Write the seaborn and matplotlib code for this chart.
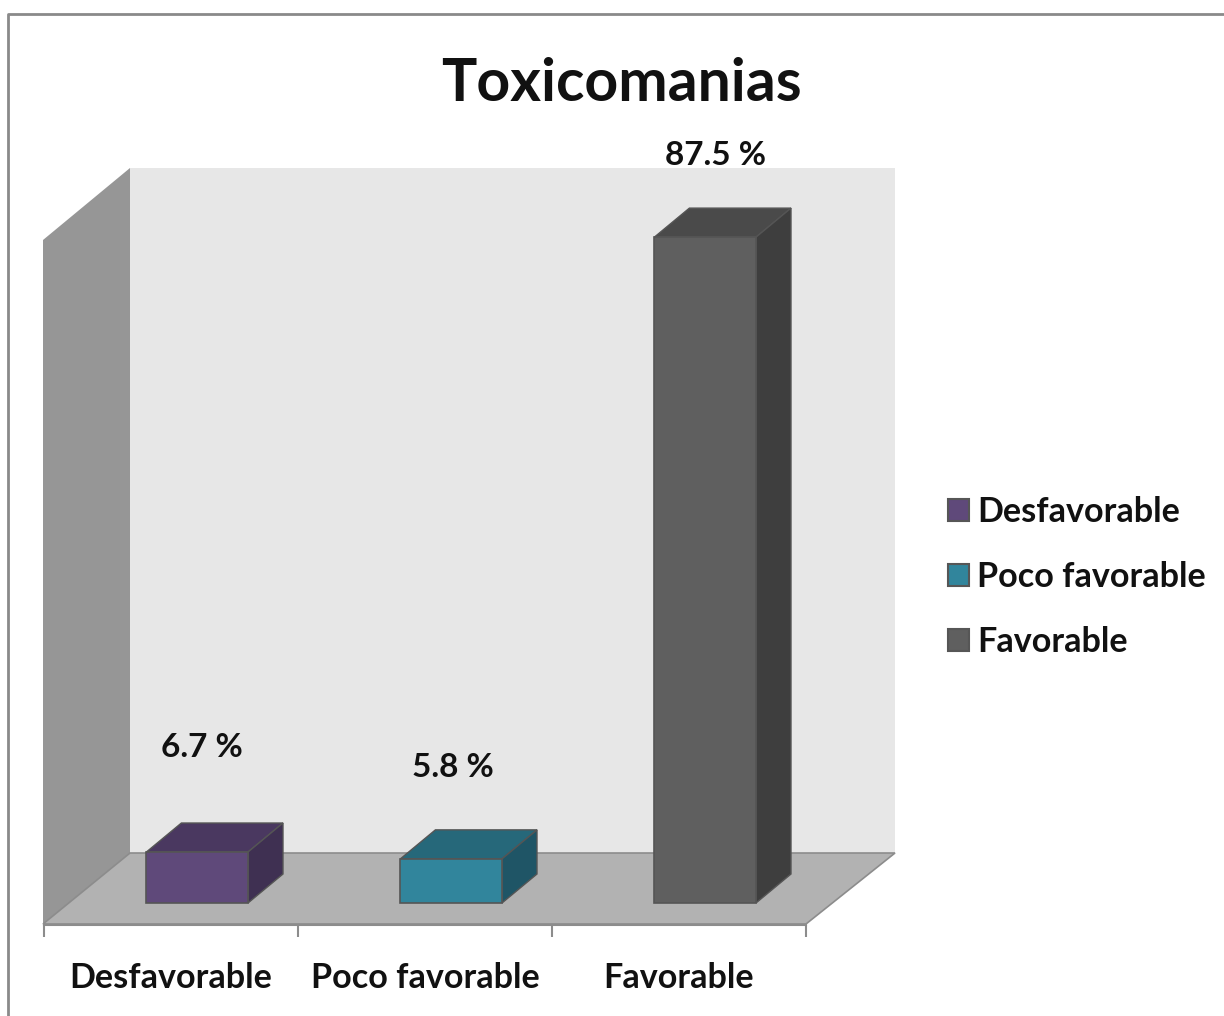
import matplotlib
matplotlib.use('Agg')
import matplotlib.pyplot as plt
from matplotlib.lines import Line2D
from matplotlib.patches import Patch, Polygon
from matplotlib.transforms import Affine2D, IdentityTransform
import pandas as pd
import seaborn as sns

categories = ['Desfavorable', 'Poco favorable', 'Favorable']
values = [6.7, 5.8, 87.5]
value_labels = ['6.7 %', '5.8 %', '87.5 %']
front_colors = ['#5F497A', '#31859C', '#5F5F5F']
top_colors = ['#4A3860', '#26687A', '#4A4A4A']
side_colors = ['#3F3052', '#1F5566', '#3E3E3E']

W, H = 1224, 1016
sns.set_theme(style='white')
plt.rcParams['font.family'] = ['Lato', 'DejaVu Sans']

df = pd.DataFrame({'cat': categories, 'val': values})

fig = plt.figure(figsize=(W / 100, H / 100), dpi=100, facecolor='white')
ax = fig.add_axes([44 / W, 1 - 925 / H, 762 / W, 825 / H])
ax.patch.set_alpha(0)

# image pixels, y pointing down
px = Affine2D().scale(1, -1).translate(0, H)

sns.barplot(data=df, x='cat', y='val', hue='cat', hue_order=categories, order=categories,
            palette=front_colors, saturation=1, dodge=False, width=0.4, legend=False,
            edgecolor='#555555', linewidth=1.2, ax=ax)

unit = 7.61
ax.set_xlim(-0.5, 2.5)
ax.set_ylim(-22 / unit, 803 / unit)

bars = [b for b in ax.patches if b.get_height() > 0]
bars = sorted(bars, key=lambda b: b.get_x())

# back walls and floor
ax.add_patch(Polygon([(43, 240), (130, 168), (130, 853), (43, 924)], closed=True, transform=px,
                     facecolor='#969696', edgecolor='none', clip_on=False, zorder=0.5))
ax.add_patch(Polygon([(130, 168), (895, 168), (895, 853), (130, 853)], closed=True, transform=px,
                     facecolor='#E7E7E7', edgecolor='none', clip_on=False, zorder=0.5))
ax.add_patch(Polygon([(43, 924), (130, 853), (895, 853), (806, 924)], closed=True, transform=px,
                     facecolor='#B2B2B2', edgecolor='#8C8C8C', linewidth=1.2, clip_on=False, zorder=0.6))

# bars sit deeper than the front edge of the floor
shift = Affine2D().translate(26.2, 0)
label_dx = [5, 2, 10]
label_dy = [105, 91, 82]
dx, dy = 35, 29
for i, bar in enumerate(bars):
    bar.set_transform(ax.transData + shift)
    bar.set_zorder(3)
    box = bar.get_window_extent()
    x0, x1, y0, y1 = box.x0, box.x1, box.y0, box.y1
    ax.add_patch(Polygon([(x0, y1), (x0 + dx, y1 + dy), (x1 + dx, y1 + dy), (x1, y1)], closed=True,
                         transform=IdentityTransform(), facecolor=top_colors[i], edgecolor='#555555',
                         linewidth=1.0, clip_on=False, zorder=2.5))
    ax.add_patch(Polygon([(x1, y0), (x1 + dx, y0 + dy), (x1 + dx, y1 + dy), (x1, y1)], closed=True,
                         transform=IdentityTransform(), facecolor=side_colors[i], edgecolor='#555555',
                         linewidth=1.0, clip_on=False, zorder=2.5))
    ax.annotate(value_labels[i], xy=((x0 + x1) / 2 + label_dx[i], y1 + label_dy[i]),
                xycoords='figure pixels', ha='center', va='center', fontsize=24, fontweight='bold',
                color='#111111', annotation_clip=False, zorder=5)

# axis line, ticks between categories, names centred under them
sns.despine(ax=ax, left=True, top=True, right=True)
ax.spines['bottom'].set_color('#8C8C8C')
ax.spines['bottom'].set_linewidth(1.5)
ax.set_xticks([-0.5, 0.5, 1.5, 2.5])
ax.set_xticklabels([])
ax.set_xticks([0, 1, 2], minor=True)
ax.set_xticklabels(categories, minor=True, fontsize=24.6, fontweight='bold', color='#111111')
ax.tick_params(axis='x', which='major', length=8.5, width=1.5, color='#8C8C8C', bottom=True)
ax.tick_params(axis='x', which='minor', length=0, pad=27)
ax.set_yticks([])
ax.set_xlabel('')
ax.set_ylabel('')

fig.text(621 / W, 1 - 84 / H, 'Toxicomanias', ha='center', va='center', fontsize=42.4,
         fontweight='bold', color='#111111')

handles = [Patch(facecolor=c, edgecolor='#565656', linewidth=1.5) for c in front_colors]
leg = fig.legend(handles, categories, loc='center left', bbox_to_anchor=(948 / W, 1 - 577 / H),
                 frameon=False, prop={'size': 24.6, 'weight': 'bold'},
                 handlelength=0.62, handleheight=0.62, handletextpad=0.24, labelspacing=0.97,
                 borderpad=0, borderaxespad=0)
for t in leg.get_texts():
    t.set_color('#111111')

# chart area frame, cut off by the image edge
fig.add_artist(Line2D([8, 8, W], [H, 14, 14], transform=px, color='#8A8A8A', linewidth=2))

fig.savefig('out.png', dpi=100)
